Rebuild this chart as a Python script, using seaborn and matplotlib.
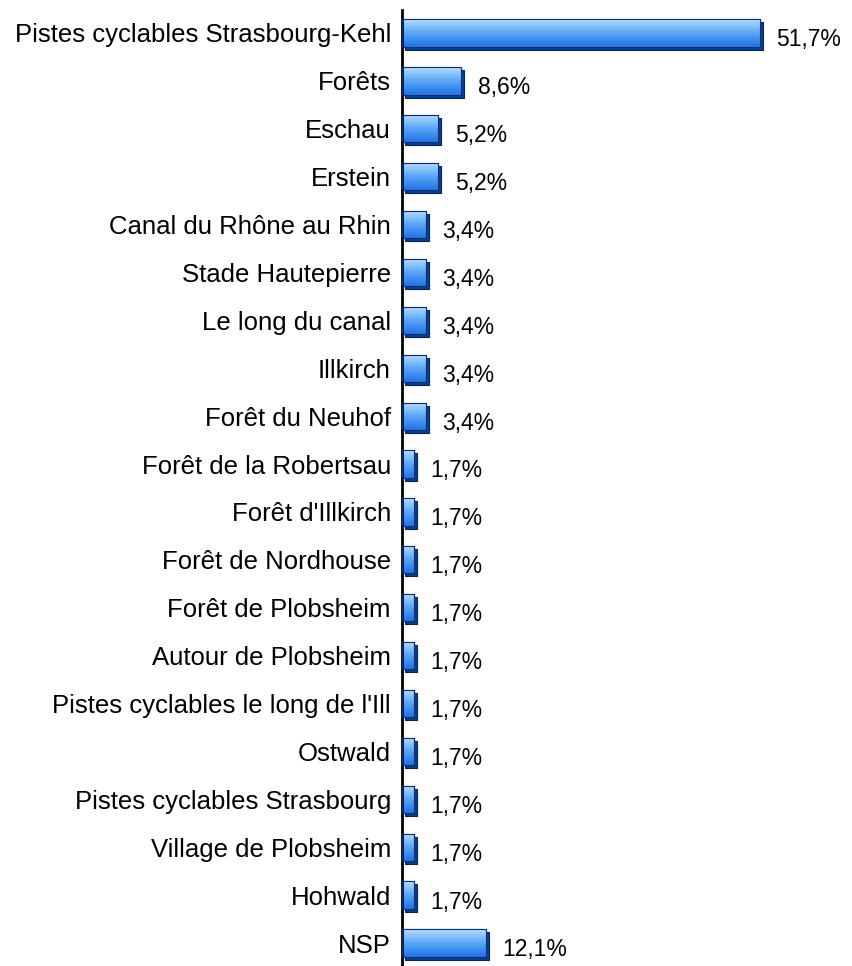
import numpy as np
import pandas as pd
import matplotlib
matplotlib.use("Agg")
import matplotlib.pyplot as plt
import matplotlib.transforms as mtransforms
from matplotlib.colors import LinearSegmentedColormap
from matplotlib.patches import Rectangle
import seaborn as sns

places = [
    "Pistes cyclables Strasbourg-Kehl", "Forêts", "Eschau", "Erstein",
    "Canal du Rhône au Rhin", "Stade Hautepierre", "Le long du canal",
    "Illkirch", "Forêt du Neuhof", "Forêt de la Robertsau", "Forêt d'Illkirch",
    "Forêt de Nordhouse", "Forêt de Plobsheim", "Autour de Plobsheim",
    "Pistes cyclables le long de l'Ill", "Ostwald", "Pistes cyclables Strasbourg",
    "Village de Plobsheim", "Hohwald", "NSP",
]
shares = [51.7, 8.6, 5.2, 5.2, 3.4, 3.4, 3.4, 3.4, 3.4,
          1.7, 1.7, 1.7, 1.7, 1.7, 1.7, 1.7, 1.7, 1.7, 1.7, 12.1]


def plot_places(df):
    """Horizontal bars with a gradient fill and a dark offset shadow."""
    sns.set_style("white")
    plt.rcParams['font.family'] = ['Liberation Sans', 'DejaVu Sans']
    fig = plt.figure(figsize=(8.53, 9.66), dpi=100)
    ax = fig.add_axes([402 / 853, 0, 451 / 853, 956 / 966])

    sns.barplot(data=df, x="share", y="place", orient="h", color="#3a8cf0",
                width=0.57, edgecolor="#0b2f6e", linewidth=0.8, ax=ax)

    grad = LinearSegmentedColormap.from_list("g", ["#b6dcff", "#5aa6f8", "#1f74e6"])
    shadow_off = mtransforms.offset_copy(ax.transData, fig=fig, x=3, y=-3, units="dots")
    for bar in list(ax.patches):
        x0, y0 = bar.get_x(), bar.get_y()
        w, h = bar.get_width(), bar.get_height()
        # dark block behind the bar gives the 3D look
        ax.add_patch(Rectangle((x0, y0), w, h, transform=shadow_off,
                               facecolor="#0d3f8f", edgecolor="#08265a",
                               linewidth=0.8, zorder=1.5))
        bar.set_zorder(2)
        img = ax.imshow(np.linspace(0, 1, 64).reshape(-1, 1), cmap=grad,
                        aspect="auto", extent=(x0, x0 + w, y0 + h, y0),
                        zorder=2.5, interpolation="bilinear")
        img.set_clip_path(bar)
        ax.add_patch(Rectangle((x0, y0), w, h, facecolor="none",
                               edgecolor="#0b2f6e", linewidth=0.8, zorder=3))
        ax.annotate(f"{w:.1f}".replace(".", ",") + "%", (x0 + w, y0 + h / 2),
                    xytext=(12, -5), textcoords="offset points",
                    va="center", ha="left", fontsize=16.5, color="black")

    ax.set_xlim(0, 65.2)
    ax.set_ylim(19.48, -0.48)
    ax.set_xlabel("")
    ax.set_ylabel("")
    ax.set_xticks([])
    ax.tick_params(axis="y", length=0, pad=8, labelsize=18.5, labelcolor="black")
    for side in ["top", "right", "bottom"]:
        ax.spines[side].set_visible(False)
    ax.spines["left"].set_linewidth(2)
    ax.spines["left"].set_color("black")
    fig.savefig("out.png", dpi=100)


def main():
    df = pd.DataFrame({"place": places, "share": shares})
    plot_places(df)


if __name__ == "__main__":
    main()
